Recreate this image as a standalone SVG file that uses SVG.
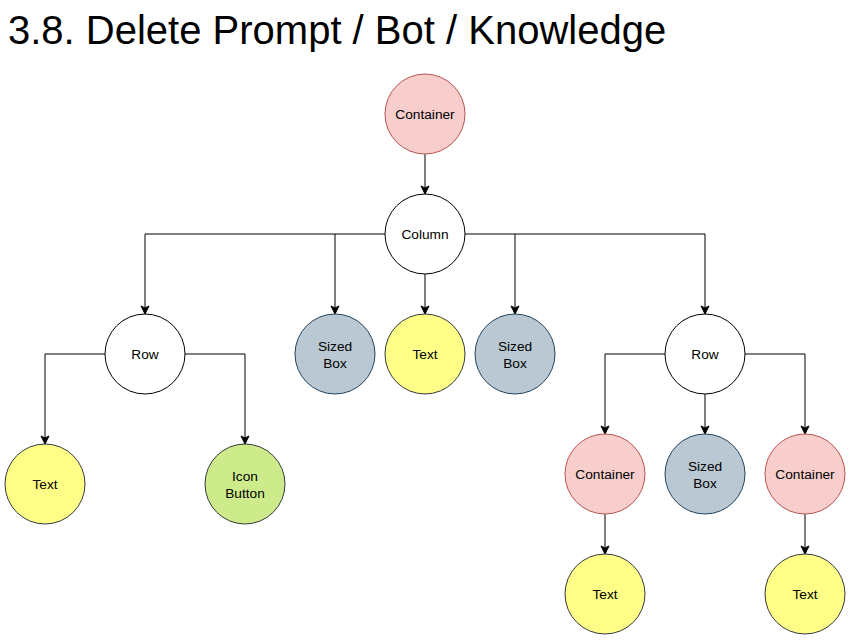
<svg xmlns="http://www.w3.org/2000/svg" width="850" height="640" viewBox="0 0 850 640">
<style>
.t{font-family:"Liberation Sans",Arial,sans-serif;font-size:13.7px;fill:#000;text-anchor:middle}
.title{font-family:"Liberation Sans",Arial,sans-serif;font-size:40px;fill:#000}
.w{fill:#ffffff;stroke:#000000;stroke-width:1}
.pk{fill:#f8cecc;stroke:#b85450;stroke-width:1}
.yl{fill:#ffff88;stroke:#36393d;stroke-width:1}
.gr{fill:#cdeb8b;stroke:#36393d;stroke-width:1}
.bl{fill:#bac8d3;stroke:#23445d;stroke-width:1}
.e{fill:none;stroke:#000;stroke-width:1;marker-end:url(#arr)}
</style>
<defs>
<marker id="arr" markerUnits="userSpaceOnUse" markerWidth="10" markerHeight="10" viewBox="0 0 10 10" refX="9" refY="5" orient="auto">
<path d="M1,1 L9,5 L1,9 L3,5 Z" fill="#000" stroke="#000" stroke-width="1"/>
</marker>
</defs>
<rect width="850" height="640" fill="#fff"/>
<text class="title" x="8" y="44">3.8. Delete Prompt / Bot / Knowledge</text>
<g id="connectors">
<path class="e" d="M425,154 L425,194"/>
<path class="e" d="M385,234 L145,234 L145,314"/>
<path class="e" d="M335,234 L335,314"/>
<path class="e" d="M425,274 L425,314"/>
<path class="e" d="M465,234 L705,234 L705,314"/>
<path class="e" d="M515,234 L515,314"/>
<path class="e" d="M105,354 L45,354 L45,444"/>
<path class="e" d="M185,354 L245,354 L245,444"/>
<path class="e" d="M665,354 L605,354 L605,434"/>
<path class="e" d="M705,394 L705,434"/>
<path class="e" d="M745,354 L805,354 L805,434"/>
<path class="e" d="M605,514 L605,554"/>
<path class="e" d="M805,514 L805,554"/>
</g>
<g id="container-root"><circle class="pk" cx="425" cy="114" r="40"/><text class="t" x="425" y="119">Container</text></g>
<g id="column"><circle class="w" cx="425" cy="234" r="40"/><text class="t" x="425" y="239">Column</text></g>
<g id="row-left"><circle class="w" cx="145" cy="354" r="40"/><text class="t" x="145" y="359">Row</text></g>
<g id="sizedbox-1"><circle class="bl" cx="335" cy="354" r="40"/><text class="t" x="335" y="350.5">Sized</text><text class="t" x="335" y="367.5">Box</text></g>
<g id="text-mid"><circle class="yl" cx="425" cy="354" r="40"/><text class="t" x="425" y="359">Text</text></g>
<g id="sizedbox-2"><circle class="bl" cx="515" cy="354" r="40"/><text class="t" x="515" y="350.5">Sized</text><text class="t" x="515" y="367.5">Box</text></g>
<g id="row-right"><circle class="w" cx="705" cy="354" r="40"/><text class="t" x="705" y="359">Row</text></g>
<g id="text-left"><circle class="yl" cx="45" cy="484" r="40"/><text class="t" x="45" y="489">Text</text></g>
<g id="icon-button"><circle class="gr" cx="245" cy="484" r="40"/><text class="t" x="245" y="480.5">Icon</text><text class="t" x="245" y="497.5">Button</text></g>
<g id="container-a"><circle class="pk" cx="605" cy="474" r="40"/><text class="t" x="605" y="479">Container</text></g>
<g id="sizedbox-3"><circle class="bl" cx="705" cy="474" r="40"/><text class="t" x="705" y="470.5">Sized</text><text class="t" x="705" y="487.5">Box</text></g>
<g id="container-b"><circle class="pk" cx="805" cy="474" r="40"/><text class="t" x="805" y="479">Container</text></g>
<g id="text-a"><circle class="yl" cx="605" cy="594" r="40"/><text class="t" x="605" y="599">Text</text></g>
<g id="text-b"><circle class="yl" cx="805" cy="594" r="40"/><text class="t" x="805" y="599">Text</text></g>
</svg>
